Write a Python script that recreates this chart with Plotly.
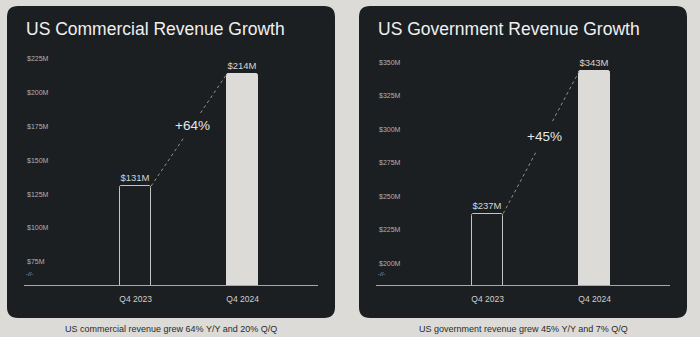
import plotly.graph_objects as go

W, H = 700, 337

# ---- data -------------------------------------------------------------
quarters = ["Q4 2023", "Q4 2024"]
commercial_rev = [131, 214]          # $M
government_rev = [237, 343]          # $M
commercial_ticks = [75, 100, 125, 150, 175, 200, 225]
government_ticks = [200, 225, 250, 275, 300, 325, 350]
growth_labels = ["+64%", "+45%"]
titles = ["US Commercial Revenue Growth", "US Government Revenue Growth"]
captions = [
    "US commercial revenue grew 64% Y/Y and 20% Q/Q",
    "US government revenue grew 45% Y/Y and 7% Q/Q",
]

# ---- styling ----------------------------------------------------------
BG = "#dcdbd8"
PANEL = "#1c1f22"
FONT = "Liberation Sans"
BAR_W = 0.29


def px(x):
    return x / W


def py(y):
    return 1 - y / H


def rounded_rect(x0, y0, x1, y1, r):
    """SVG path for a rounded rectangle, pixel input -> paper fractions."""
    pts = [
        ("M", [(x0 + r, y0)]),
        ("L", [(x1 - r, y0)]),
        ("Q", [(x1, y0), (x1, y0 + r)]),
        ("L", [(x1, y1 - r)]),
        ("Q", [(x1, y1), (x1 - r, y1)]),
        ("L", [(x0 + r, y1)]),
        ("Q", [(x0, y1), (x0, y1 - r)]),
        ("L", [(x0, y0 + r)]),
        ("Q", [(x0, y0), (x0 + r, y0)]),
    ]
    s = ""
    for cmd, coords in pts:
        s += cmd + " " + " ".join(f"{px(a):.5f},{py(b):.5f}" for a, b in coords) + " "
    return s + "Z"


fig = go.Figure()

panels = [
    dict(rev=commercial_rev, ticks=commercial_ticks, px0=7, px1=335,
         plot0=24, plot1=318, yrange=[57.9, 231.4], xref="x", yref="y"),
    dict(rev=government_rev, ticks=government_ticks, px0=359, px1=687,
         plot0=376, plot1=670, yrange=[183.7, 359.0], xref="x2", yref="y2"),
]

shapes = []
annotations = []
for i, p in enumerate(panels):
    shapes.append(dict(type="path", path=rounded_rect(p["px0"], 6, p["px1"], 318, 11),
                       xref="paper", yref="paper", fillcolor=PANEL,
                       line=dict(width=0), layer="below"))

    vals = p["rev"]
    fig.add_trace(go.Bar(
        x=[0, 1], y=vals, width=BAR_W,
        marker=dict(color=["rgba(0,0,0,0)", BG],
                    line=dict(color=["#c4c4c4", BG], width=1),
                    cornerradius=2),
        text=[f"${v}M" for v in vals], textposition="outside",
        textfont=dict(family=FONT, size=9.5, color="#d4d4d4"),
        constraintext="none", cliponaxis=False, hoverinfo="skip",
        xaxis=p["xref"], yaxis=p["yref"], showlegend=False,
    ))

    # dotted connector between bar tops, broken around the growth label
    xa, ya = BAR_W / 2, vals[0]
    xb, yb = 1 - BAR_W / 2, vals[1]
    t_gap0, t_gap1, t_lab = 0.44, 0.65, 0.54
    lx = [xa, xa + (xb - xa) * t_gap0, None, xa + (xb - xa) * t_gap1, xb]
    ly = [ya, ya + (yb - ya) * t_gap0, None, ya + (yb - ya) * t_gap1, yb]
    fig.add_trace(go.Scatter(
        x=lx, y=ly, mode="lines", line=dict(color="#8f8f8f", width=1, dash="dot"),
        hoverinfo="skip", showlegend=False, xaxis=p["xref"], yaxis=p["yref"],
    ))
    annotations.append(dict(
        x=xa + (xb - xa) * t_lab, y=ya + (yb - ya) * t_lab,
        xref=p["xref"], yref=p["yref"], text=growth_labels[i], showarrow=False,
        font=dict(family=FONT, size=13.5, color="#e6e6e6"),
        xanchor="center", yanchor="middle",
    ))

    # title, axis-break mark and caption
    annotations.append(dict(
        x=px(p["plot0"]), y=py(29), xref="paper", yref="paper", text=titles[i],
        showarrow=False, xanchor="left", yanchor="middle",
        font=dict(family=FONT, size=17.5, color="#f0f0f0"),
    ))
    annotations.append(dict(
        x=px(p["plot0"]), y=py(274), xref="paper", yref="paper", text="-//-",
        showarrow=False, xanchor="left", yanchor="middle",
        font=dict(family=FONT, size=6, color="#a0a0a0"),
    ))
    annotations.append(dict(
        x=px((p["px0"] + p["px1"]) / 2), y=py(329), xref="paper", yref="paper",
        text=captions[i], showarrow=False, xanchor="center", yanchor="middle",
        font=dict(family=FONT, size=9, color="#2a2a2a"),
    ))

    axis_suffix = "" if i == 0 else str(i + 1)
    fig.update_layout(**{
        "xaxis" + axis_suffix: dict(
            domain=[px(p["plot0"]), px(p["plot1"])],
            range=[-1.044, 1.705], tickvals=[0, 1], ticktext=quarters,
            showgrid=False, zeroline=False, showline=True,
            linecolor="#a8a8a8", linewidth=1, ticks="", ticklabelstandoff=6,
            tickfont=dict(family=FONT, size=8.5, color="#cfcfcf"),
            anchor="y" + axis_suffix, fixedrange=True,
        ),
        "yaxis" + axis_suffix: dict(
            domain=[py(285), py(50)], range=p["yrange"],
            tickvals=p["ticks"], ticktext=[f"${v}M" for v in p["ticks"]],
            ticklabelposition="inside", ticks="",
            showgrid=False, zeroline=False, showline=False,
            tickfont=dict(family=FONT, size=7, color="#b0b0b0"),
            anchor="x" + axis_suffix, fixedrange=True,
        ),
    })

fig.update_layout(
    width=W, height=H,
    margin=dict(l=0, r=0, t=0, b=0),
    paper_bgcolor=BG, plot_bgcolor="rgba(0,0,0,0)",
    shapes=shapes, annotations=annotations,
    bargap=0, showlegend=False,
)

fig.write_html("out.html", config={"displayModeBar": False})
